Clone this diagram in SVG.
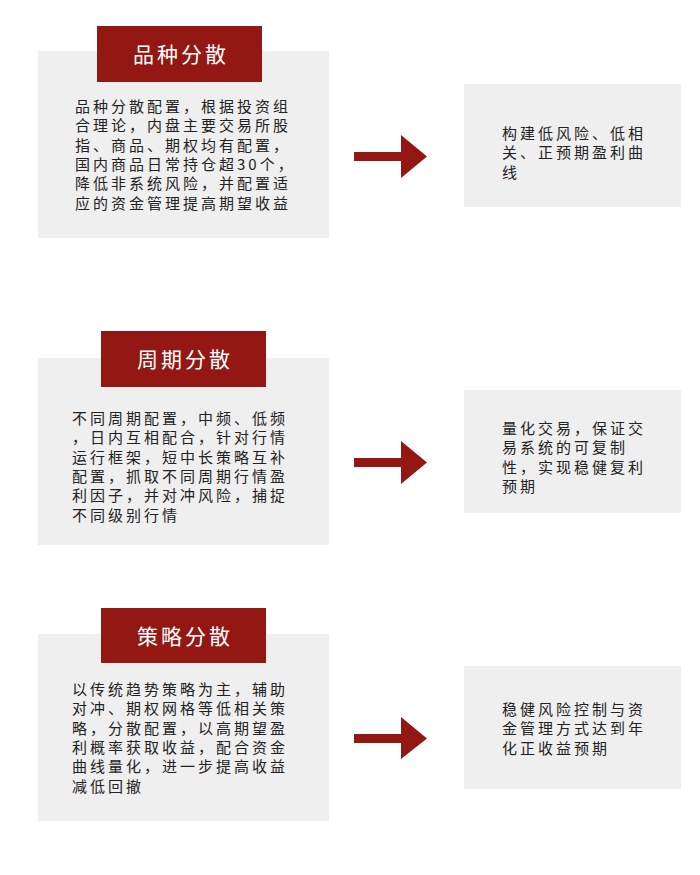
<svg xmlns="http://www.w3.org/2000/svg" width="700" height="875" viewBox="0 0 700 875">
<style>
.card{fill:#efefef}
.tag{fill:#931813}
.ttl{font-family:"Noto Sans CJK SC","Noto Sans",sans-serif;font-size:21px;fill:#ffffff;text-anchor:middle;letter-spacing:3px}
.body{font-family:"Noto Sans CJK SC","Noto Sans",sans-serif;font-size:15px;fill:#222222;letter-spacing:3px}
.arrow{fill:#931813}
</style>
<rect width="700" height="875" fill="#ffffff"/>

<g id="node-1">
<rect class="card" x="38" y="51" width="291" height="187"/>
<rect class="tag" x="97" y="26" width="165" height="56"/>
<text class="ttl" x="181" y="62">品种分散</text>
<text class="body" x="75" y="112">
<tspan x="75" y="112">品种分散配置，根据投资组</tspan>
<tspan x="75" y="131.3">合理论，内盘主要交易所股</tspan>
<tspan x="75" y="150.6">指、商品、期权均有配置，</tspan>
<tspan x="75" y="169.9">国内商品日常持仓超30个，</tspan>
<tspan x="75" y="189.2">降低非系统风险，并配置适</tspan>
<tspan x="75" y="208.5">应的资金管理提高期望收益</tspan>
</text>
</g>

<g id="node-2">
<rect class="card" x="464" y="84" width="217" height="123"/>
<text class="body" x="502" y="139">
<tspan x="502" y="139">构建低风险、低相</tspan>
<tspan x="502" y="158.3">关、正预期盈利曲</tspan>
<tspan x="502" y="177.6">线</tspan>
</text>
</g>

<g id="node-3">
<rect class="card" x="38" y="358" width="291" height="187"/>
<rect class="tag" x="101" y="331" width="165" height="56"/>
<text class="ttl" x="185" y="367">周期分散</text>
<text class="body" x="72" y="424">
<tspan x="72" y="424">不同周期配置，中频、低频</tspan>
<tspan x="72" y="443.3">，日内互相配合，针对行情</tspan>
<tspan x="72" y="462.6">运行框架，短中长策略互补</tspan>
<tspan x="72" y="481.9">配置，抓取不同周期行情盈</tspan>
<tspan x="72" y="501.2">利因子，并对冲风险，捕捉</tspan>
<tspan x="72" y="520.5">不同级别行情</tspan>
</text>
</g>

<g id="node-4">
<rect class="card" x="464" y="390" width="217" height="123"/>
<text class="body" x="502" y="434">
<tspan x="502" y="434">量化交易，保证交</tspan>
<tspan x="502" y="453.3">易系统的可复制</tspan>
<tspan x="502" y="472.6">性，实现稳健复利</tspan>
<tspan x="502" y="491.9">预期</tspan>
</text>
</g>

<g id="node-5">
<rect class="card" x="38" y="634" width="291" height="187"/>
<rect class="tag" x="101" y="608" width="165" height="55"/>
<text class="ttl" x="185" y="644">策略分散</text>
<text class="body" x="72" y="695">
<tspan x="72" y="695">以传统趋势策略为主，辅助</tspan>
<tspan x="72" y="714.3">对冲、期权网格等低相关策</tspan>
<tspan x="72" y="733.6">略，分散配置，以高期望盈</tspan>
<tspan x="72" y="752.9">利概率获取收益，配合资金</tspan>
<tspan x="72" y="772.2">曲线量化，进一步提高收益</tspan>
<tspan x="72" y="791.5">减低回撤</tspan>
</text>
</g>

<g id="node-6">
<rect class="card" x="464" y="666" width="217" height="123"/>
<text class="body" x="502" y="715">
<tspan x="502" y="715">稳健风险控制与资</tspan>
<tspan x="502" y="734.3">金管理方式达到年</tspan>
<tspan x="502" y="753.6">化正收益预期</tspan>
</text>
</g>

<g id="connectors">
<polygon class="arrow" points="354,152 401,152 401,135 427,156.5 401,178 401,161 354,161"/>
<polygon class="arrow" points="354,458 401,458 401,441 427,462.5 401,484 401,467 354,467"/>
<polygon class="arrow" points="354,734 401,734 401,717 427,738.5 401,759 401,743 354,743"/>
</g>
</svg>
